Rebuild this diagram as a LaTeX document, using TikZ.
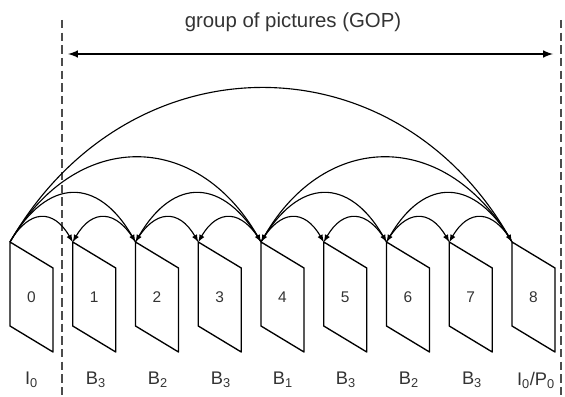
\documentclass[tikz,border=0pt]{standalone}
\usepackage{fontspec}
\setmainfont{Liberation Sans}
\usepackage{tikz}
\usetikzlibrary{calc}

\begin{document}
\begin{tikzpicture}[
      x=0.025cm, y=0.025cm,
      marco/.style={draw, line width=0.95pt, line join=round},
      num/.style={font=\fontsize{11}{13}\selectfont, text=black!80},
      tipo/.style={font=\fontsize{13}{15}\selectfont, text=black!80},
      limite/.style={dashed, dash pattern=on 6pt off 3pt, line width=1pt, black!70},
      arco/.style={->, >=latex, line width=0.8pt, bend left=60, looseness=#1},
      arcoinv/.style={->, >=latex, line width=0.8pt, bend right=60, looseness=#1},
      gop/.style={<->, >=latex, line width=1.4pt}
    ]
    \useasboundingbox (0,0) rectangle (565,396);

    % limites del GOP
    \coordinate (la) at (62,376);  \coordinate (lb) at (62,0);
    \coordinate (ra) at (561,376); \coordinate (rb) at (561,0);
    \draw[limite] (la) -- (lb);
    \draw[limite] (ra) -- (rb);
    \coordinate (ga) at (68,342);  \coordinate (gb) at (553,342);
    \draw[gop] (ga) -- (gb);
    \node[font=\fontsize{14.5}{17}\selectfont, text=black!80] (titulo) at (293,374) {group of pictures (GOP)};

    % cuadros
    \draw[marco] (10,154) coordinate (f0) -- ++(43,-26) -- ++(0,-84) -- ++(-43,26) -- cycle;
    \draw[marco] (72.75,154) coordinate (f1) -- ++(43,-26) -- ++(0,-84) -- ++(-43,26) -- cycle;
    \draw[marco] (135.5,154) coordinate (f2) -- ++(43,-26) -- ++(0,-84) -- ++(-43,26) -- cycle;
    \draw[marco] (198.25,154) coordinate (f3) -- ++(43,-26) -- ++(0,-84) -- ++(-43,26) -- cycle;
    \draw[marco] (261,154) coordinate (f4) -- ++(43,-26) -- ++(0,-84) -- ++(-43,26) -- cycle;
    \draw[marco] (323.75,154) coordinate (f5) -- ++(43,-26) -- ++(0,-84) -- ++(-43,26) -- cycle;
    \draw[marco] (386.5,154) coordinate (f6) -- ++(43,-26) -- ++(0,-84) -- ++(-43,26) -- cycle;
    \draw[marco] (449.25,154) coordinate (f7) -- ++(43,-26) -- ++(0,-84) -- ++(-43,26) -- cycle;
    \draw[marco] (512,154) coordinate (f8) -- ++(43,-26) -- ++(0,-84) -- ++(-43,26) -- cycle;

    \node[num] (n0) at (31.5,99)   {0};
    \node[num] (n1) at (94.25,99)  {1};
    \node[num] (n2) at (157,99)    {2};
    \node[num] (n3) at (219.75,99) {3};
    \node[num] (n4) at (282.5,99)  {4};
    \node[num] (n5) at (345.25,99) {5};
    \node[num] (n6) at (408,99)    {6};
    \node[num] (n7) at (470.75,99) {7};
    \node[num] (n8) at (533.5,99)  {8};

    \node[tipo] (t0) at (31.5,16)   {I\textsubscript{0}};
    \node[tipo] (t1) at (96,16)     {B\textsubscript{3}};
    \node[tipo] (t2) at (158,16)    {B\textsubscript{2}};
    \node[tipo] (t3) at (221,16)    {B\textsubscript{3}};
    \node[tipo] (t4) at (283,16)    {B\textsubscript{1}};
    \node[tipo] (t5) at (346,16)    {B\textsubscript{3}};
    \node[tipo] (t6) at (409,16)    {B\textsubscript{2}};
    \node[tipo] (t7) at (472,16)    {B\textsubscript{3}};
    \node[tipo] (t8) at (536,16)    {I\textsubscript{0}/P\textsubscript{0}};

    % referencias
    \draw[arco=1.57]    (f0) to (f1);
    \draw[arcoinv=1.57] (f2) to (f1);
    \draw[arco=1.57]    (f2) to (f3);
    \draw[arcoinv=1.57] (f4) to (f3);
    \draw[arco=1.57]    (f4) to (f5);
    \draw[arcoinv=1.57] (f6) to (f5);
    \draw[arco=1.57]    (f6) to (f7);
    \draw[arcoinv=1.57] (f8) to (f7);
    \draw[arco=1.54]    (f0) to (f2);
    \draw[arcoinv=1.54] (f4) to (f2);
    \draw[arco=1.54]    (f4) to (f6);
    \draw[arcoinv=1.54] (f8) to (f6);
    \draw[arco=1.33]    (f0) to (f4);
    \draw[arcoinv=1.33] (f8) to (f4);
    \draw[arco=1.21]    (f0) to (f8);
  \end{tikzpicture}
\end{document}
